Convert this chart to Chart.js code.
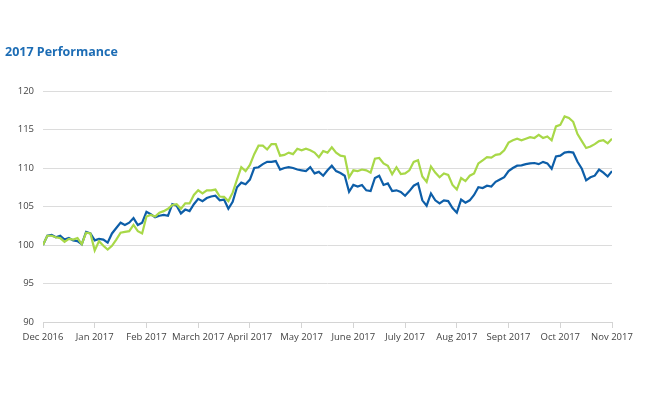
<!DOCTYPE html>
<html>
<head>
<meta charset="utf-8">
<script src="https://cdn.jsdelivr.net/npm/chart.js@4.4.1/dist/chart.umd.min.js"></script>
<style>
  html, body { margin: 0; padding: 0; background: #ffffff; }
  #wrap { position: relative; width: 650px; height: 400px; }
</style>
</head>
<body>
<div id="wrap"><canvas id="c" width="650" height="400"></canvas></div>
<script>
const titleText = "2017 Performance";
const monthLabels = ["Dec 2016", "Jan 2017", "Feb 2017", "March 2017", "April 2017", "May 2017",
  "June 2017", "July 2017", "Aug 2017", "Sept 2017", "Oct 2017", "Nov 2017"];
const pointsPerMonth = 12;
const yTicks = [90, 95, 100, 105, 110, 115, 120];

const blueSeries = [
  100.0, 101.2, 101.3, 101.0, 101.2, 100.7, 100.9, 100.6, 100.5, 100.1, 101.7, 101.5,
  100.6, 100.8, 100.7, 100.3, 101.5, 102.2, 102.9, 102.6, 102.9, 103.5, 102.6, 102.9,
  104.3, 104.0, 103.6, 103.8, 103.9, 103.8, 105.3, 105.1, 104.1, 104.6, 104.4, 105.3,
  106.0, 105.7, 106.1, 106.3, 106.4, 105.8, 105.9, 104.7, 105.6, 107.5, 108.1, 107.9,
  108.5, 110.0, 110.1, 110.5, 110.8, 110.8, 110.9, 109.8, 110.0, 110.1, 110.0, 109.8,
  109.7, 109.6, 110.1, 109.3, 109.5, 109.0, 109.7, 110.3, 109.6, 109.35, 109.0, 106.9,
  107.8, 107.6, 107.8, 107.1, 107.0, 108.7, 109.0, 107.8, 108.0, 107.0, 107.1, 106.9,
  106.4, 107.0, 107.7, 108.0, 105.8, 105.1, 106.7, 105.8, 105.4, 105.8, 105.7, 104.8,
  104.2, 105.9, 105.5, 105.8, 106.5, 107.5, 107.4, 107.7, 107.6, 108.2, 108.5, 108.8,
  109.6, 110.0, 110.3, 110.35, 110.5, 110.6, 110.65, 110.5, 110.8, 110.6, 109.9, 111.5,
  111.6, 112.0, 112.1, 112.0, 110.8, 109.9, 108.4, 108.8, 109.0, 109.8, 109.4, 108.9,
  109.6
];

const greenSeries = [
  100.0, 101.2, 101.2, 101.0, 100.9, 100.4, 100.8, 100.7, 100.9, 100.1, 101.6, 101.5,
  99.3, 100.5, 99.9, 99.4, 99.9, 100.7, 101.6, 101.7, 101.8, 102.6, 101.8, 101.5,
  103.7, 103.9, 103.7, 104.2, 104.4, 104.7, 105.2, 105.3, 104.7, 105.4, 105.4, 106.5,
  107.1, 106.7, 107.1, 107.1, 107.2, 106.3, 106.25, 105.7, 106.8, 108.5, 110.1, 109.6,
  110.4, 111.8, 112.9, 112.9, 112.4, 113.1, 113.1, 111.6, 111.7, 112.0, 111.8, 112.5,
  112.3, 112.5, 112.3, 112.0, 111.4, 112.2, 112.0, 112.7, 112.0, 111.6, 111.5, 108.8,
  109.7, 109.6, 109.8, 109.7, 109.4, 111.2, 111.3, 110.6, 110.3, 109.2, 110.1, 109.2,
  109.3, 109.7, 110.8, 111.0, 108.9, 108.2, 110.2, 109.4, 108.8, 109.3, 109.1, 107.8,
  107.2, 108.7, 108.3, 109.0, 109.3, 110.6, 111.0, 111.4, 111.35, 111.7, 111.8, 112.3,
  113.3, 113.6, 113.8, 113.6, 113.8, 114.0, 113.9, 114.3, 113.9, 114.1, 113.6, 115.4,
  115.6, 116.7, 116.5, 116.0, 114.4, 113.5, 112.6, 112.8, 113.1, 113.5, 113.6, 113.2,
  113.8
];

const toPoints = arr => arr.map((v, i) => ({ x: i, y: v }));
const lastIndex = (monthLabels.length - 1) * pointsPerMonth;

new Chart(document.getElementById('c'), {
  type: 'line',
  data: {
    datasets: [
      {
        label: 'Benchmark',
        data: toPoints(greenSeries),
        borderColor: '#a8d848',
        borderWidth: 2.2,
        pointRadius: 0,
        tension: 0,
        fill: false
      },
      {
        label: 'Fund',
        data: toPoints(blueSeries),
        borderColor: '#0d5ea8',
        borderWidth: 2.2,
        pointRadius: 0,
        tension: 0,
        fill: false
      }
    ]
  },
  options: {
    responsive: false,
    animation: false,
    layout: { padding: { left: 5, right: 38, top: 0, bottom: 38 } },
    plugins: {
      legend: { display: false },
      tooltip: { enabled: false },
      title: {
        display: true,
        text: titleText,
        align: 'start',
        color: '#1d6db5',
        font: { family: 'Open Sans', size: 12.5, weight: 'bold' },
        padding: { top: 45, bottom: 31 }
      }
    },
    scales: {
      x: {
        type: 'linear',
        min: 0,
        max: lastIndex,
        afterBuildTicks: s => { s.ticks = monthLabels.map((_, i) => ({ value: i * pointsPerMonth })); },
        ticks: {
          callback: v => monthLabels[Math.round(v / pointsPerMonth)],
          autoSkip: false,
          maxRotation: 0,
          color: '#444',
          font: { family: 'Open Sans', size: 9.5 },
          padding: 4
        },
        grid: { drawOnChartArea: false, drawTicks: true, tickLength: 6, color: '#d4d4d4' },
        border: { display: true, color: '#d4d4d4' },
        afterFit: s => { s.height = 40; }
      },
      y: {
        min: 90,
        max: 120,
        afterBuildTicks: s => { s.ticks = yTicks.map(v => ({ value: v })); },
        ticks: {
          color: '#444',
          font: { family: 'Open Sans', size: 9.5 },
          padding: 9
        },
        grid: { drawTicks: false, color: '#dcdcdc' },
        border: { display: false },
        afterFit: s => { s.width = 38; }
      }
    }
  }
});
</script>
</body>
</html>
